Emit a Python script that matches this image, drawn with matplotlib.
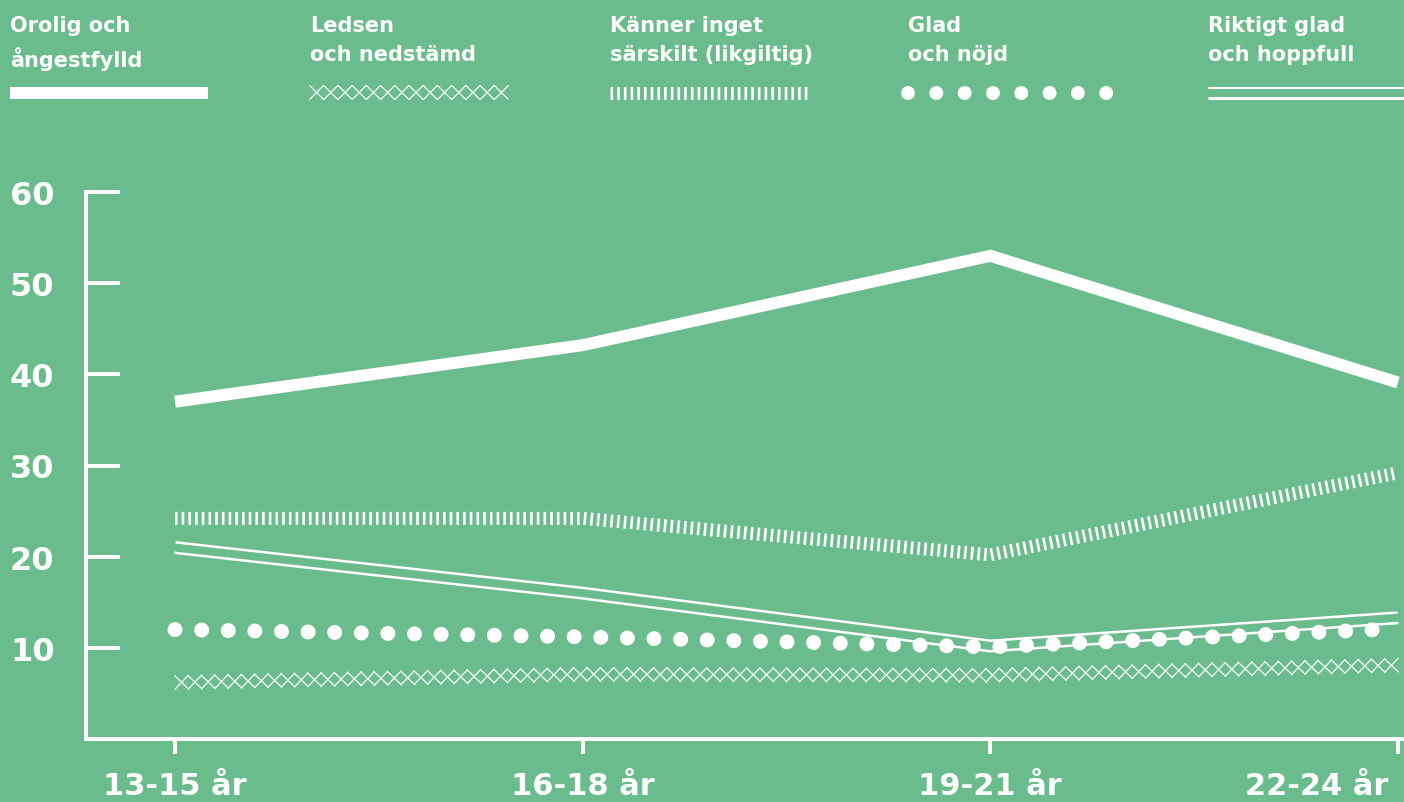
import matplotlib
matplotlib.use("Agg")
import matplotlib.pyplot as plt
from matplotlib import patheffects as pe
from matplotlib.transforms import ScaledTranslation

# data (percent)
age_groups = ["13-15 år", "16-18 år", "19-21 år", "22-24 år"]
orolig = [37.0, 43.2, 53.0, 39.1]
ledsen = [6.2, 7.1, 7.0, 8.1]
kanner = [24.2, 24.2, 20.2, 29.2]
glad = [12.0, 11.2, 10.1, 12.1]
riktigt_glad = [21.0, 16.0, 10.2, 13.3]

legend_labels = ["Orolig och\nångestfylld", "Ledsen\noch nedstämd",
                 "Känner inget\nsärskilt (likgiltig)", "Glad\noch nöjd",
                 "Riktigt glad\noch hoppfull"]
yticks = [10, 20, 30, 40, 50, 60]

BG = "#6abc8c"
FG = "white"
FONT = "DejaVu Sans"
PX = 0.72  # points per pixel at dpi 100

W, H = 1404, 803
fig = plt.figure(figsize=(W / 100, H / 100), dpi=100, facecolor=BG)

# main axes placed in pixel terms
x_left, x_right, y_bot, y_top = 86, 1404, 740, 193
ax = fig.add_axes([x_left / W, (H - y_bot) / H, (x_right - x_left) / W, (y_bot - y_top) / H])
ax.set_facecolor(BG)
x = list(range(len(age_groups)))
unit = (1398 - 175) / 3
ax.set_xlim(-(175 - x_left) / unit, 3 + (x_right - 1398) / unit)
ax.set_ylim(0, 60)


def diamond_effects(spacing):
    # four ticked strokes at +-45 / +-135 degrees join into a chain of diamonds
    return [pe.TickedStroke(spacing=spacing, angle=a, length=0.72)
            for a in (45, 135, -45, -135)]


def styled_line(axes, xs, ys, kind, dot_gap=26.6, dot_size=15, **kw):
    if kind == "solid":
        axes.plot(xs, ys, color=FG, lw=12 * PX, solid_capstyle="butt",
                  solid_joinstyle="miter", **kw)
    elif kind == "diamonds":
        axes.plot(xs, ys, color=FG, lw=1.2 * PX,
                  path_effects=diamond_effects(13.2 * PX), **kw)
    elif kind == "bars":
        axes.plot(xs, ys, color=FG, lw=13 * PX, dashes=(2.6 / 13, 4.1 / 13),
                  dash_capstyle="butt", **kw)
    elif kind == "dots":
        axes.plot(xs, ys, color=FG, lw=dot_size * PX,
                  dashes=(0.001, dot_gap / dot_size),
                  dash_capstyle="round", **kw)
    elif kind == "double":
        axes.plot(xs, ys, color=FG, lw=13 * PX, solid_capstyle="butt", **kw)
        axes.plot(xs, ys, color=BG, lw=8 * PX, solid_capstyle="projecting", **kw)


styled_line(ax, x, orolig, "solid", zorder=5)
styled_line(ax, x, kanner, "bars", zorder=4)
styled_line(ax, x, riktigt_glad, "double", zorder=3)
styled_line(ax, x, glad, "dots", zorder=6)
styled_line(ax, x, ledsen, "diamonds", zorder=4)

# axes styling
for s in ["top", "right"]:
    ax.spines[s].set_visible(False)
for s in ["left", "bottom"]:
    ax.spines[s].set_color(FG)
    ax.spines[s].set_linewidth(4 * PX)
ax.spines["bottom"].set_zorder(10)
ax.set_yticks(yticks)
ax.set_yticklabels([str(v) for v in yticks])
ax.tick_params(axis="y", direction="in", length=34 * PX, width=4 * PX, color=FG,
               pad=76 * PX, labelcolor=FG, labelsize=23)
for lab in ax.get_yticklabels():
    lab.set_horizontalalignment("left")
    lab.set_fontfamily(FONT)
    lab.set_fontweight("bold")
ax.set_xticks(x)
ax.set_xticklabels(age_groups)
ax.tick_params(axis="x", direction="out", length=15 * PX, width=4 * PX, color=FG,
               pad=17 * PX, labelcolor=FG, labelsize=22)
for lab in ax.get_xticklabels():
    lab.set_fontfamily(FONT)
    lab.set_fontweight("bold")
# last label sits left of its tick, as in the original
last = ax.get_xticklabels()[-1]
last.set_horizontalalignment("left")
last.set_transform(last.get_transform() + ScaledTranslation(-153 / 100, 0, fig.dpi_scale_trans))

# legend drawn in pixel space
lax = fig.add_axes([0, 0, 1, 1])
lax.set_xlim(0, W)
lax.set_ylim(H, 0)
lax.axis("off")
lax.patch.set_alpha(0)
col_x = [10, 310, 610, 908, 1208]
kinds = ["solid", "diamonds", "bars", "dots", "double"]
for cx, label, kind in zip(col_x, legend_labels, kinds):
    lax.text(cx, 16, label, color=FG, fontsize=15, fontweight="bold",
             family=FONT, va="top", ha="left", linespacing=1.55)
    if kind == "dots":
        styled_line(lax, [cx, cx + 206], [94, 94], kind, dot_gap=28.3, dot_size=14)
    elif kind == "double":
        styled_line(lax, [cx, cx + 200], [93.5, 93.5], kind)
    else:
        styled_line(lax, [cx, cx + 198], [93.5, 93.5], kind)

fig.savefig("out.png", dpi=100, facecolor=BG)
